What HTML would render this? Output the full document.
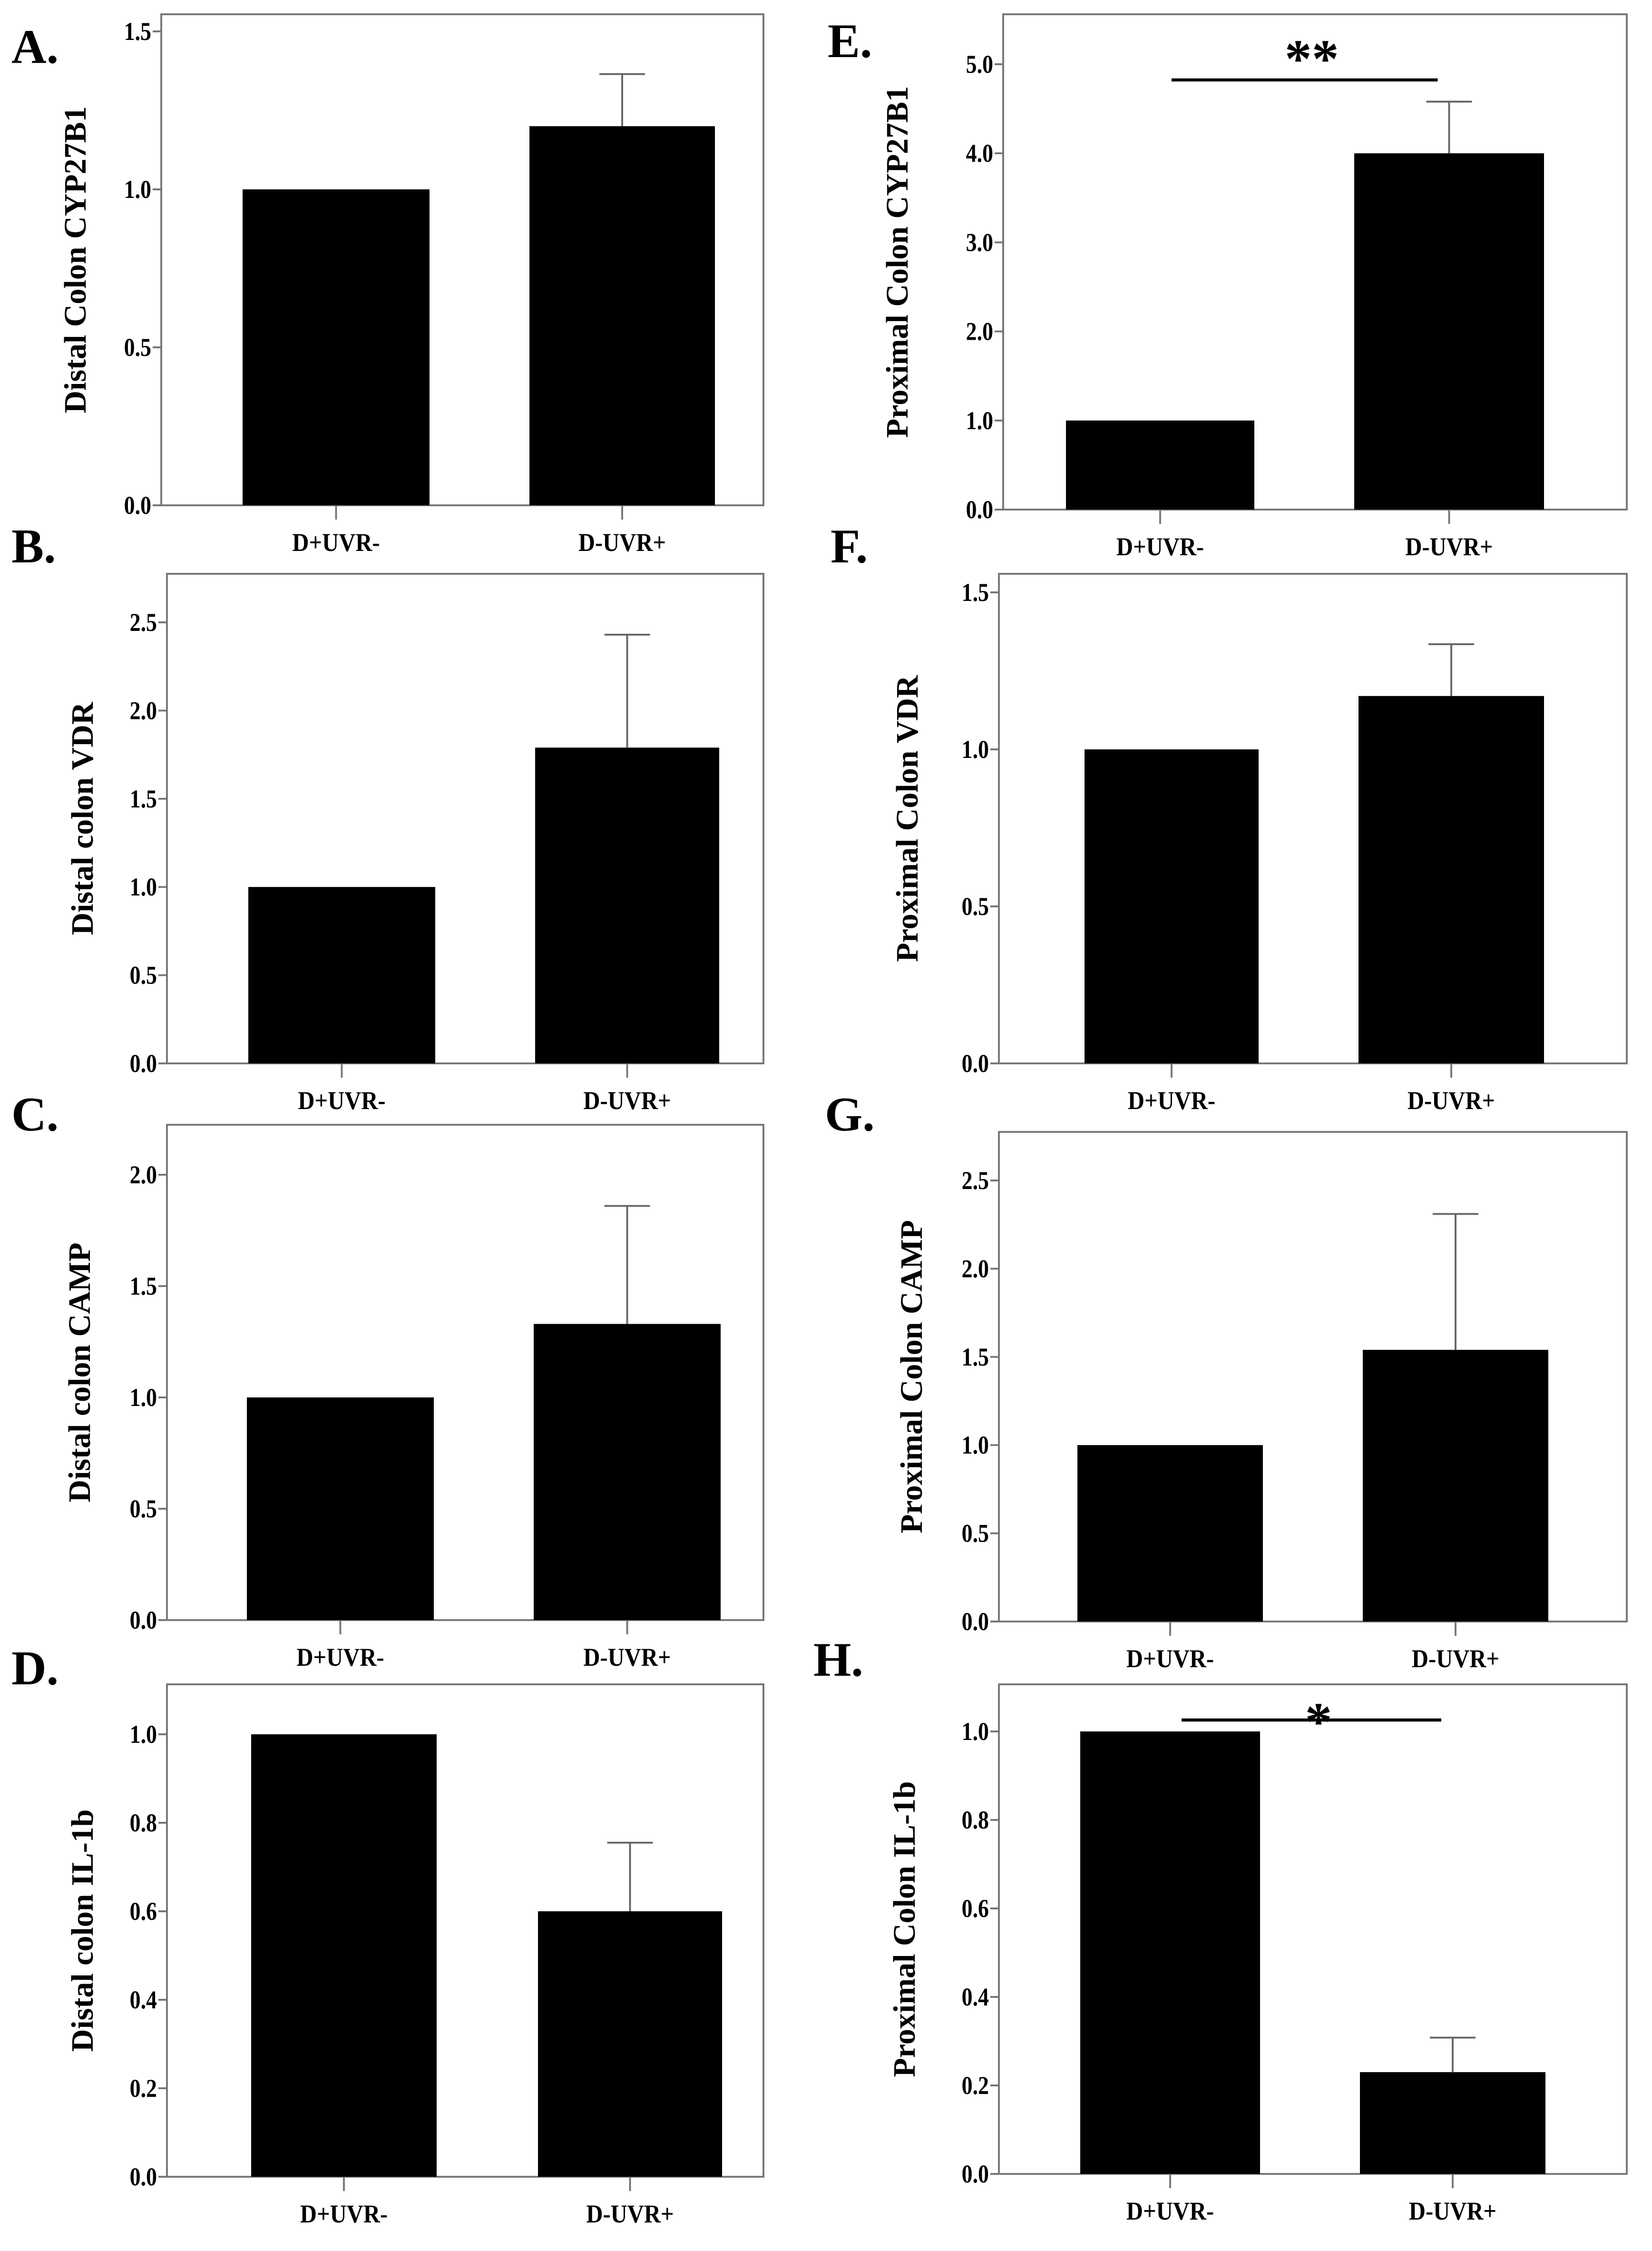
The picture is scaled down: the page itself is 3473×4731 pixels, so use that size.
<!DOCTYPE html>
<html><head><meta charset="utf-8"><style>
html,body{margin:0;padding:0;background:#fff;}
svg{display:block;}
text{font-family:"Liberation Serif",serif;font-weight:bold;fill:#000;}
</style></head><body>
<svg id="fig" width="3473" height="4731" viewBox="0 0 1157.67 1577" preserveAspectRatio="none" xmlns="http://www.w3.org/2000/svg"></svg>
<script>
// ---- data ----
const categories = ["D+UVR-", "D-UVR+"];
const panelLetters = ["A.", "E.", "B.", "F.", "C.", "G.", "D.", "H."];
const yTitles = ["Distal Colon CYP27B1", "Proximal Colon CYP27B1", "Distal colon VDR", "Proximal Colon VDR", "Distal colon CAMP", "Proximal Colon CAMP", "Distal colon IL-1b", "Proximal Colon IL-1b"];
const controlMeans = [1.0, 1.0, 1.0, 1.0, 1.0, 1.0, 1.0, 1.0];
const treatedMeans = [1.2, 4.0, 1.79, 1.17, 1.33, 1.54, 0.6, 0.23];
const treatedErrTop = [1.365, 4.58, 2.43, 1.335, 1.86, 2.31, 0.755, 0.308];
const yTickLabels = [
  ["0.0","0.5","1.0","1.5"],
  ["0.0","1.0","2.0","3.0","4.0","5.0"],
  ["0.0","0.5","1.0","1.5","2.0","2.5"],
  ["0.0","0.5","1.0","1.5"],
  ["0.0","0.5","1.0","1.5","2.0"],
  ["0.0","0.5","1.0","1.5","2.0","2.5"],
  ["0.0","0.2","0.4","0.6","0.8","1.0"],
  ["0.0","0.2","0.4","0.6","0.8","1.0"]
];
const significance = ["", "**", "", "", "", "", "", "*"];

// ---- layout (pixels, not data) ----
const layout = [
  {fl:113,fr:535,ft:10,fb:354,y0:354,ytop:22,b1:[170,301],b2:[371,501],lx:52,let:[8,44],sigY:0},
  {fl:703,fr:1140,ft:10,fb:357,y0:357,ytop:45,b1:[747,879],b2:[949,1082],lx:628,let:[580,40],sigY:56},
  {fl:117,fr:535,ft:402,fb:745,y0:745,ytop:436,b1:[174,305],b2:[375,504],lx:57,let:[8,394],sigY:0},
  {fl:700,fr:1140,ft:402,fb:745,y0:745,ytop:415,b1:[760,882],b2:[952,1082],lx:635,let:[582,394],sigY:0},
  {fl:117,fr:535,ft:788,fb:1135,y0:1135,ytop:823,b1:[173,304],b2:[374,505],lx:55,let:[8,792],sigY:0},
  {fl:700,fr:1140,ft:793,fb:1136,y0:1136,ytop:827,b1:[755,885],b2:[955,1085],lx:638,let:[578,792],sigY:0},
  {fl:117,fr:535,ft:1180,fb:1525,y0:1525,ytop:1215,b1:[176,306],b2:[377,506],lx:57,let:[8,1180],sigY:0},
  {fl:700,fr:1140,ft:1180,fb:1523,y0:1523,ytop:1213,b1:[757,883],b2:[953,1083],lx:633,let:[570,1174],sigY:1205}
];

const svg = document.getElementById('fig');
const NS = "http://www.w3.org/2000/svg";
function mk(tag, attrs, parent){
  const e = document.createElementNS(NS, tag);
  for (const k in attrs) e.setAttribute(k, attrs[k]);
  (parent||svg).appendChild(e);
  return e;
}

for (let i = 0; i < layout.length; i++) {
  const L = layout[i];
  const ticks = yTickLabels[i];
  const yMax = parseFloat(ticks[ticks.length-1]);
  const yScale = v => L.y0 - (v / yMax) * (L.y0 - L.ytop);
  const g = mk('g', {});
  
  

  const frame = mk('rect', {x:L.fl, y:L.ft, width:L.fr-L.fl, height:L.fb-L.ft, fill:'none', stroke:'#777', 'stroke-width':1.3}, g);
  
  

  const letter = mk('text', {x:L.let[0], y:L.let[1], 'font-size':34}, g);
  letter.textContent = panelLetters[i];
  
  

  ticks.forEach(t => {
    const y = yScale(parseFloat(t));
    mk('line', {x1:L.fl-6, x2:L.fl, y1:y, y2:y, stroke:'#777', 'stroke-width':1.3}, g);
    const tl = mk('text', {x:0, y:0, 'font-size':18, 'text-anchor':'end', transform:`translate(${L.fl-7},${y+6}) scale(0.85,1)`}, g);
    tl.textContent = t;
    
    
  });

  const yc = (L.ft + L.fb) / 2;
  const yt = mk('text', {x:0, y:0, 'font-size':22, 'text-anchor':'middle', transform:`translate(${L.lx+8},${yc}) rotate(-90)`}, g);
  yt.textContent = yTitles[i];
  
  

  const bars = [L.b1, L.b2];
  const means = [controlMeans[i], treatedMeans[i]];
  for (let b = 0; b < 2; b++) {
    const [x1, x2] = bars[b];
    const yv = yScale(means[b]);
    const r = mk('rect', {x:x1, y:yv, width:x2-x1, height:L.y0-yv, fill:'#000'}, g);
    
    
    const cx = (x1 + x2) / 2;
    mk('line', {x1:cx, x2:cx, y1:L.y0, y2:L.y0+10, stroke:'#777', 'stroke-width':1.3}, g);
    const cl = mk('text', {x:0, y:0, 'font-size':18, 'text-anchor':'middle', transform:`translate(${cx},${L.y0+32}) scale(0.9,1)`}, g);
    cl.textContent = categories[b];
    
    
    if (b === 1) {
      const ye = yScale(treatedErrTop[i]);
      const el = mk('path', {d:`M${cx},${yv} V${ye} M${cx-16},${ye} H${cx+16}`, stroke:'#666', 'stroke-width':1.3, fill:'none'}, g);
      
      
    }
  }

  if (significance[i]) {
    const c1 = (L.b1[0]+L.b1[1])/2, c2 = (L.b2[0]+L.b2[1])/2;
    const sl = mk('line', {x1:c1+8, x2:c2-8, y1:L.sigY, y2:L.sigY, stroke:'#000', 'stroke-width':2.2}, g);
    
    
    const st = mk('text', {x:(c1+c2)/2+5, y:L.sigY + (significance[i].length>1 ? -2 : 14), 'font-size':38, 'text-anchor':'middle'}, g);
    st.textContent = significance[i];
    
    
  }
}
</script>
</body></html>
